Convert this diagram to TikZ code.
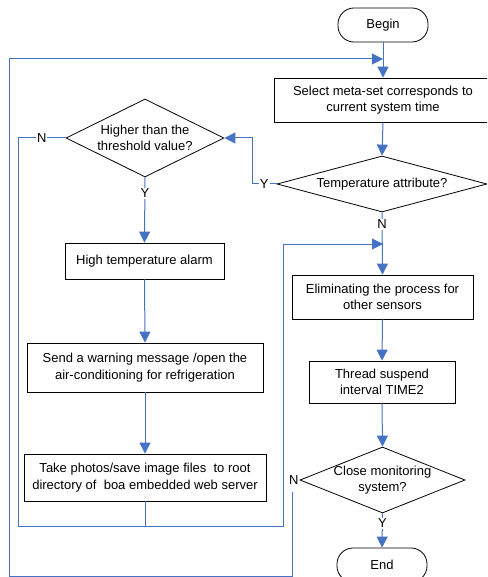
\documentclass[tikz,border=0pt]{standalone}
\usepackage{fontspec}
\setmainfont{Liberation Sans}
\usetikzlibrary{shapes.geometric,arrows.meta}
\definecolor{flowblue}{RGB}{70,114,196}
\begin{document}
\begin{tikzpicture}[x=1pt,y=-1pt,
  font=\fontsize{13}{16.5}\selectfont,
  box/.style={draw=black,line width=0.8pt,rectangle,inner sep=0pt,align=center},
  term/.style={box,rounded corners=16pt},
  dia/.style={draw=black,line width=0.8pt,diamond,inner sep=0pt},
  conn/.style={draw=flowblue,line width=1pt},
  arr/.style={conn,-{Triangle[length=11pt,width=11pt]}},
  lbl/.style={inner sep=1pt,fill=white,text=black}
]
\useasboundingbox (0,0) rectangle (487,577);
\clip (0,0) rectangle (487,577);

% right column
\node[term,minimum width=90,minimum height=34] (begin) at (383,25) {Begin};
\node[box,minimum width=218,minimum height=44] (sel) at (383,100)
  {Select meta-set corresponds to\\current system time};
\node[dia,minimum width=210,minimum height=56,
  label={center:Temperature attribute?}] (temp) at (382,184) {};
\node[box,minimum width=181,minimum height=44] (elim) at (382.5,297)
  {Eliminating the process for\\other sensors};
\node[box,minimum width=146,minimum height=42] (thread) at (382,382)
  {Thread suspend\\interval TIME2};
\node[dia,minimum width=165,minimum height=66,
  label={[align=center]center:Close monitoring\\system?}] (close) at (382.5,480) {};
\node[term,minimum width=90,minimum height=34] (end) at (382,565) {End};

% left column
\node[dia,minimum width=158,minimum height=78,
  label={[align=center]center:Higher than the\\threshold value?}] (higher) at (145,138) {};
\node[box,minimum width=159,minimum height=36] (hta) at (144.5,261)
  {High temperature alarm};
\node[box,minimum width=236,minimum height=49] (send) at (145,367.5)
  {Send a warning message /open the\\air-conditioning for refrigeration};
\node[box,minimum width=242,minimum height=47] (photo) at (145,477.5)
  {Take photos/save image files~ to root\\directory of~ boa embedded web server};

% junctions and loop corners
\coordinate (j1) at (383,59);
\coordinate (j2) at (383,244);
\coordinate (o1) at (292,492);
\node[inner sep=1pt,anchor=east] (nN) at (close.west) {N};

% main flow
\draw[arr] (begin.south) -- (sel.north);
\draw[arr] (sel.south) -- (temp.north);
\draw[arr] (temp.south) -- node[lbl,pos=0.19]{N} (elim.north);
\draw[arr] (elim.south) -- (thread.north);
\draw[arr] (thread.south) -- (close.north);
\draw[arr] (close.south) -- node[lbl,pos=0.29]{Y} (end.north);

% temperature branch
\draw[arr] (temp.west) -- node[lbl]{Y} (252,184) |- (higher.east);
\draw[arr] (higher.south) -- node[lbl,pos=0.24]{Y} (hta.north);
\draw[arr] (hta.south) -- (send.north);
\draw[arr] (send.south) -- (photo.north);
\draw[conn] (photo.south) -- (photo.south |- 0,526);

% return loops
\draw[arr] (higher.west) -- node[lbl]{N} (18,138) |- (283,526) |- (j2);
\draw[arr] (o1) -- (292,576) -| (9,59) -- (j1);
\end{tikzpicture}
\end{document}
